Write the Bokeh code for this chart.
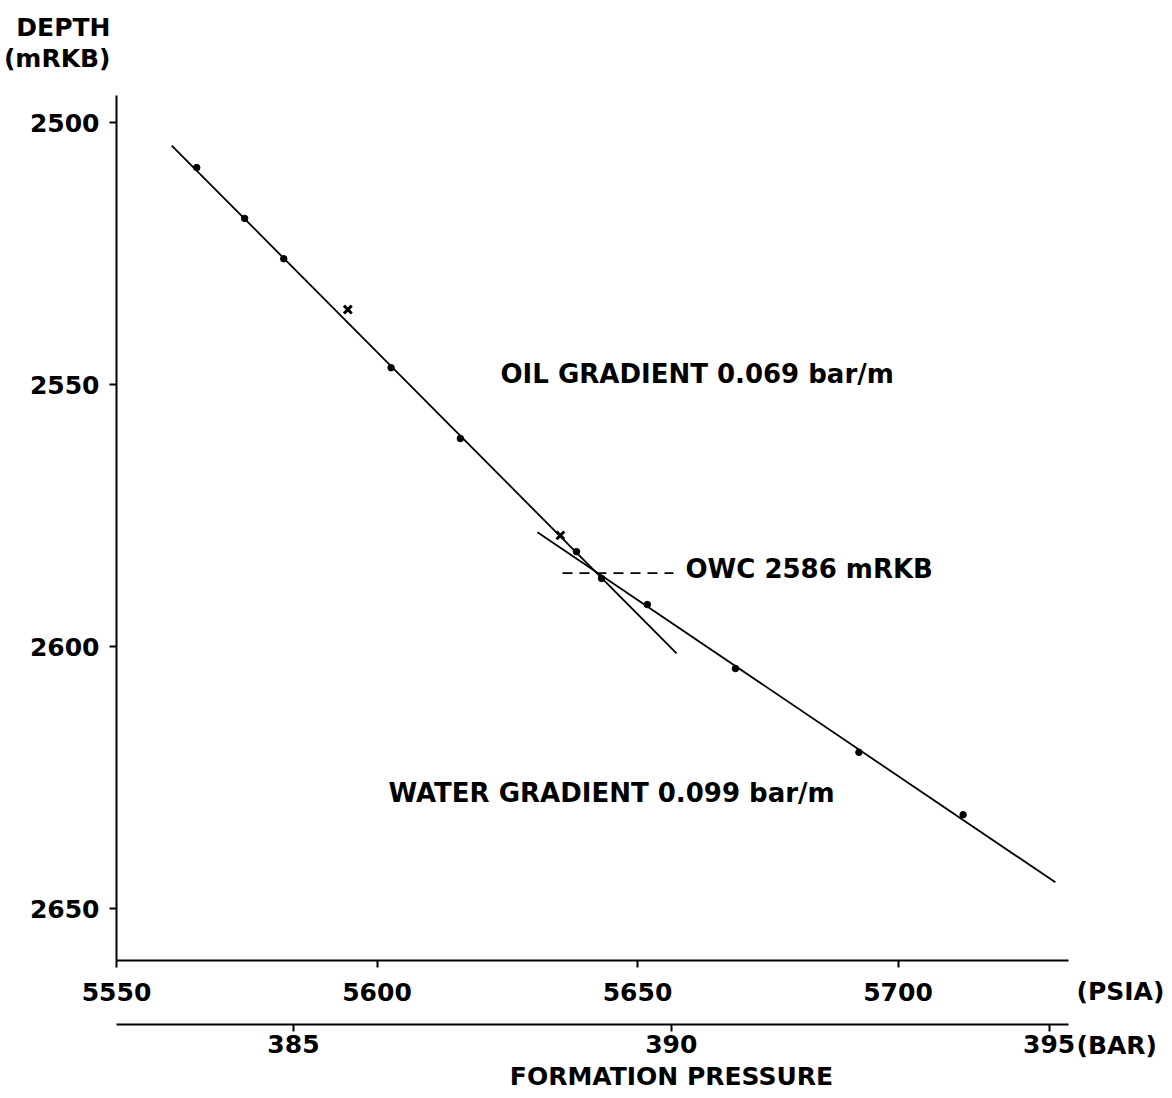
from bokeh.plotting import figure
from bokeh.models import Range1d, LinearAxis, FixedTicker, Label
from bokeh.embed import file_html
from bokeh.resources import INLINE

# ---- data ----
point_psia = [5565.4, 5574.6, 5582.1, 5602.7, 5616.0, 5638.3, 5643.1, 5651.9, 5668.8, 5692.5, 5712.5]
point_depth = [2508.6, 2518.3, 2526.0, 2546.8, 2560.3, 2581.9, 2587.0, 2592.0, 2604.2, 2620.2, 2632.1]
cross_psia = [5594.4, 5635.2]
cross_depth = [2535.7, 2578.8]
oil_line_psia = [5560.6, 5657.5]
oil_line_depth = [2504.4, 2601.3]
water_line_psia = [5630.8, 5730.2]
water_line_depth = [2578.2, 2645.0]
owc_psia = [5635.6, 5656.9]
owc_depth = [2586, 2586]
psia_ticks = [5550, 5600, 5650, 5700]
bar_ticks = [385, 390, 395]
depth_ticks = [2500, 2550, 2600, 2650]
PSI_PER_BAR = 14.5038

FONT = "DejaVu Sans"
TICK_FS = "25px"
TEXT_FS = "26px"

# geometry (page px) -> data mapping
W, H = 1170, 1096
PX0 = 116          # px of 5550 psia
PY0 = 122          # px of 2500 m
XS = 5.21          # px per psi
YS = 5.24          # px per m


def dx(px):
    return 5550 + (px - PX0) / XS


def dy(py):
    return 2500 + (py - PY0) / YS


p = figure(width=W, height=H, output_backend="svg", toolbar_location=None,
           x_range=Range1d(dx(0), dx(W)), y_range=Range1d(dy(H), dy(0)),
           x_axis_location=None, y_axis_location=None,
           min_border_left=0, min_border_right=0, min_border_top=0, min_border_bottom=0)
p.grid.visible = False
p.outline_line_color = None
p.background_fill_color = "white"
p.border_fill_color = "white"

x_end = dx(1068)
axis_top = dy(95)
axis_bottom = dy(960)
bar_line = dy(1024)


def style_axis(ax):
    ax.axis_line_width = 2
    ax.axis_line_color = "black"
    ax.major_tick_line_width = 2
    ax.major_tick_line_color = "black"
    ax.major_tick_in = 0
    ax.major_tick_out = 7
    ax.minor_tick_line_color = None
    ax.major_label_text_font = FONT
    ax.major_label_text_font_style = "bold"
    ax.major_label_text_font_size = TICK_FS
    ax.major_label_text_color = "black"


yax = LinearAxis(ticker=FixedTicker(ticks=depth_ticks), fixed_location=5550,
                 bounds=(axis_top, axis_bottom))
style_axis(yax)
yax.major_label_standoff = 10
p.add_layout(yax, "left")

xax = LinearAxis(ticker=FixedTicker(ticks=psia_ticks), fixed_location=axis_bottom,
                 bounds=(5550, x_end))
style_axis(xax)
xax.major_label_standoff = 15
p.add_layout(xax, "below")

p.extra_x_ranges = {"bar": Range1d(dx(0) / PSI_PER_BAR, dx(W) / PSI_PER_BAR)}
bax = LinearAxis(x_range_name="bar", ticker=FixedTicker(ticks=bar_ticks),
                 fixed_location=bar_line, bounds=(5550 / PSI_PER_BAR, x_end / PSI_PER_BAR))
style_axis(bax)
bax.major_label_standoff = 3
p.add_layout(bax, "below")

# lines
p.line(oil_line_psia, oil_line_depth, line_color="black", line_width=1.8)
p.line(water_line_psia, water_line_depth, line_color="black", line_width=1.8)
p.line(owc_psia, owc_depth, line_color="black", line_width=1.8, line_dash="10 7")

# points
p.scatter(point_psia, point_depth, marker="circle", size=6.5, color="black")
p.scatter(cross_psia, cross_depth, marker="x", size=11, line_width=3, color="black")


def add_text(txt, px, py, align="left", size=TEXT_FS):
    p.add_layout(Label(x=dx(px), y=dy(py), text=txt, text_font=FONT, text_font_style="bold",
                       text_font_size=size, text_color="black",
                       text_align=align, text_baseline="middle"))


add_text("DEPTH", 110, 27, "right", TICK_FS)
add_text("(mRKB)", 110, 58, "right", TICK_FS)
add_text("OIL GRADIENT 0.069 bar/m", 500, 373)
add_text("OWC 2586 mRKB", 685, 568)
add_text("WATER GRADIENT 0.099 bar/m", 388, 792)
add_text("(PSIA)", 1076, 991, "left", TICK_FS)
add_text("(BAR)", 1076, 1045, "left", TICK_FS)
add_text("FORMATION PRESSURE", 671, 1076, "center", TICK_FS)

open("out.html", "w").write(file_html(p, INLINE))
